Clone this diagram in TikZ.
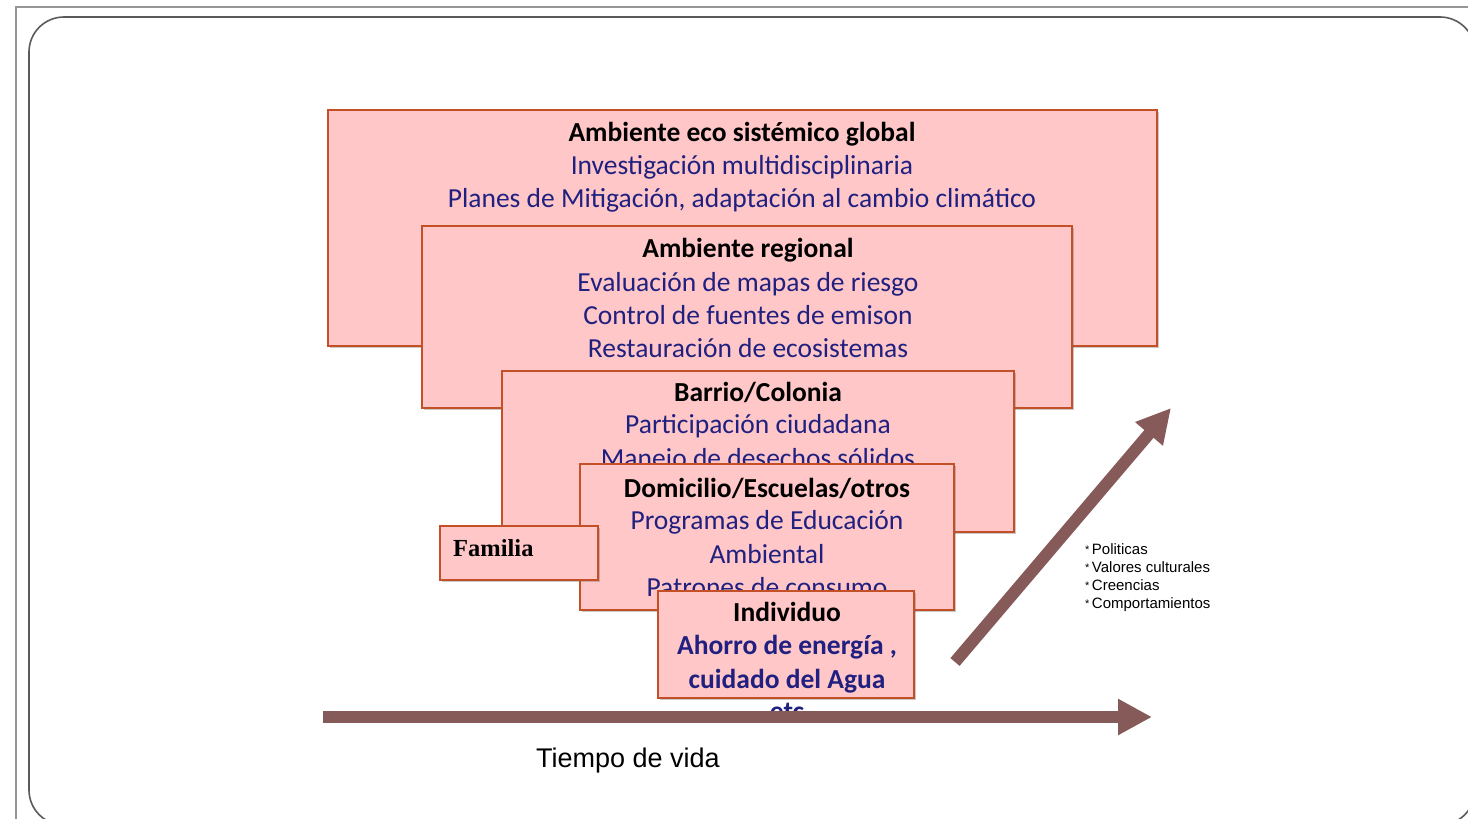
\documentclass[tikz,border=0pt]{standalone}
\usepackage{fontspec}
\setmainfont{Carlito}
\newfontfamily\arialf{Liberation Sans}
\newfontfamily\serifb{Liberation Serif}
\usetikzlibrary{arrows.meta,shadows}
\definecolor{boxfill}{RGB}{255,199,199}
\definecolor{boxline}{RGB}{196,80,40}
\definecolor{navytxt}{RGB}{32,32,128}
\definecolor{arrowc}{RGB}{135,90,90}
\definecolor{framec}{RGB}{150,150,150}
\definecolor{innerc}{RGB}{90,90,90}
\tikzset{
  pbox/.style={rectangle, draw=boxline, line width=1.5pt, fill=boxfill, inner sep=0pt, outer sep=0pt,
    drop shadow={shadow xshift=2pt, shadow yshift=-2pt, opacity=0.35, fill=black!60}},
  ttl/.style={anchor=base, inner sep=0pt, font=\fontsize{27.5}{30}\selectfont\bfseries, text=black},
  bod/.style={anchor=base, inner sep=0pt, font=\fontsize{27.5}{30}\selectfont, text=navytxt},
  bodb/.style={anchor=base, inner sep=0pt, font=\fontsize{27.5}{30}\selectfont\bfseries, text=navytxt},
  bul/.style={anchor=base west, inner sep=0pt, font=\arialf\fontsize{15}{17}\selectfont, text=black},
  bigarrow/.style={draw=arrowc, line width=12pt, -{Triangle[width=34pt,length=34pt]}}
}
\newcommand{\bulmark}{{\fontsize{11}{11}\selectfont\raisebox{1pt}{*}}}
\begin{document}
\begin{tikzpicture}[x=1pt,y=-1pt]
\useasboundingbox (0,0) rectangle (1468,819);
\fill[white] (0,0) rectangle (1468,819);
\begin{scope}
\clip (0,0) rectangle (1468,819);
\draw[framec, line width=2pt] (16,830) -- (16,7) -- (1480,7);
\draw[innerc, line width=1.6pt, rounded corners=35pt] (29,17) rectangle (1475,825);
\end{scope}

% Box 1
\node[pbox, minimum width=829pt, minimum height=236pt] (b1) at (742.5,228) {};
\node[ttl] (t1a) at (742,141) {Ambiente eco sistémico global};
\node[bod] (t1b) at (742,174) {Investigación multidisciplinaria};
\node[bod] (t1c) at (742,207) {Planes de Mitigación, adaptación al cambio climático};

% Box 2
\node[pbox, minimum width=650pt, minimum height=182pt] (b2) at (747,317) {};
\node[ttl] (t2a) at (748,257) {Ambiente regional};
\node[bod] (t2b) at (748,291) {Evaluación de mapas de riesgo};
\node[bod] (t2c) at (748,324) {Control de fuentes de emison};
\node[bod] (t2d) at (748,357) {Restauración de ecosistemas};

% Box 3
\node[pbox, minimum width=512pt, minimum height=161pt] (b3) at (758,451.5) {};
\node[ttl] (t3a) at (758,401) {Barrio/Colonia};
\node[bod] (t3b) at (758,433) {Participación ciudadana};
\node[bod] (t3c) at (758,467) {Manejo de desechos sólidos};

% Box 4
\node[pbox, minimum width=374pt, minimum height=146pt] (b4) at (767,537) {};
\node[ttl] (t4a) at (767,497) {Domicilio/Escuelas/otros};
\node[bod] (t4b) at (767,529) {Programas de Educación};
\node[bod] (t4c) at (767,563) {Ambiental};
\node[bod] (t4d) at (767,596) {Patrones de consumo};

% Familia
\node[pbox, minimum width=158pt, minimum height=54pt] (fam) at (519,553) {};
\node[anchor=base west, inner sep=0pt, font=\serifb\fontsize{24.5}{27}\selectfont\bfseries] (tfam) at (453,556) {Familia};

% Individuo
\node[pbox, minimum width=256pt, minimum height=107pt] (ind) at (786,644.5) {};
\node[ttl] (t5a) at (787,621) {Individuo};
\node[bodb] (t5b) at (787,654) {Ahorro de energía ,};
\node[bodb] (t5c) at (787,688) {cuidado del Agua};
\node[bodb] (t5d) at (787,720) {etc};

% Arrows
\coordinate (h0) at (323,717);
\coordinate (h1) at (1152,717);
\coordinate (d0) at (955,662);
\coordinate (d1) at (1171,408);
\draw[bigarrow] (h0) -- (h1);
\draw[bigarrow] (d0) -- (d1);

% Bullet list
\node[bul] (p1) at (1085,554) {\bulmark\,Politicas};
\node[bul] (p2) at (1085,572) {\bulmark\,Valores culturales};
\node[bul] (p3) at (1085,590) {\bulmark\,Creencias};
\node[bul] (p4) at (1085,608) {\bulmark\,Comportamientos};

% Tiempo de vida
\node[anchor=base west, inner sep=0pt, font=\arialf\fontsize{27}{30}\selectfont] (tv) at (536,767) {Tiempo de vida};
\end{tikzpicture}
\end{document}
